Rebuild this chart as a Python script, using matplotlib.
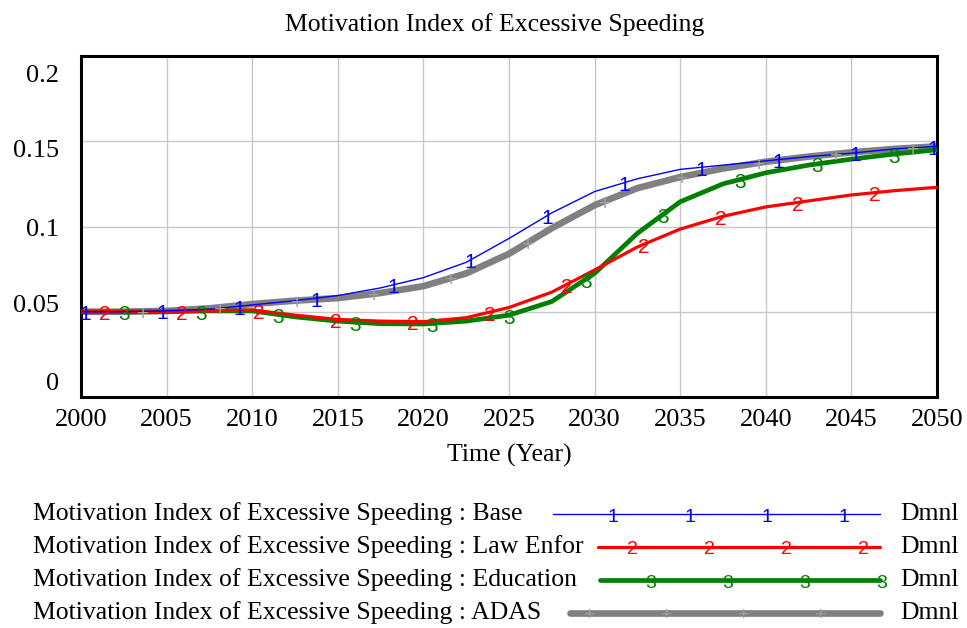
import numpy as np
import matplotlib
matplotlib.use("Agg")
import matplotlib.pyplot as plt
from matplotlib.transforms import ScaledTranslation

# ---------------- data ----------------
years = [2000, 2002.5, 2005, 2007.5, 2010, 2012.5, 2015, 2017.5, 2020, 2022.5, 2025,
         2027.5, 2030, 2032.5, 2035, 2037.5, 2040, 2042.5, 2045, 2047.5, 2050]
base = [0.050, 0.050, 0.0505, 0.0515, 0.054, 0.0565, 0.0595, 0.064, 0.070, 0.079, 0.093,
        0.108, 0.1205, 0.128, 0.1335, 0.136, 0.1385, 0.141, 0.143, 0.1455, 0.147]
law_enfor = [0.050, 0.050, 0.050, 0.0505, 0.051, 0.048, 0.0455, 0.0445, 0.0442, 0.0465, 0.0525,
             0.0615, 0.0745, 0.088, 0.0985, 0.106, 0.1115, 0.115, 0.1185, 0.121, 0.123]
education = [0.050, 0.050, 0.050, 0.0505, 0.0505, 0.047, 0.0445, 0.043, 0.0428, 0.0445, 0.048,
             0.056, 0.0725, 0.096, 0.1145, 0.125, 0.1315, 0.136, 0.1395, 0.1425, 0.145]
adas = [0.050, 0.050, 0.0505, 0.052, 0.0545, 0.0565, 0.058, 0.061, 0.065, 0.0725, 0.084,
        0.099, 0.1125, 0.1225, 0.129, 0.134, 0.138, 0.141, 0.1435, 0.1455, 0.147]

series_names = ["Base", "Law Enfor", "Education", "ADAS"]
marker_texts = ["1", "2", "3", "+"]
x_ticks = [2000, 2005, 2010, 2015, 2020, 2025, 2030, 2035, 2040, 2045, 2050]
y_ticks = [0, 0.05, 0.1, 0.15, 0.2]
y_tick_labels = ["0", "0.05", "0.1", "0.15", "0.2"]

# ---------------- style ----------------
colors = ["#0000ff", "#ff0000", "#008000", "#808080"]
marker_colors = ["#0000ff", "#ff0000", "#008000", "#a0a0a0"]
widths = [1.0, 2.3, 3.4, 4.8]
serif = ["Liberation Serif", "DejaVu Serif"]
sans = ["Liberation Sans", "DejaVu Sans"]

W, H = 967, 628
fig = plt.figure(figsize=(W / 100, H / 100), dpi=100)
ax = fig.add_axes([81 / W, 1 - 397 / H, (937 - 81) / W, (397 - 56) / H])

data = [base, law_enfor, education, adas]
order = [3, 2, 1, 0]
z = {3: 2, 2: 3, 1: 4, 0: 5}
for i in order:
    ax.plot(years, data[i], color=colors[i], lw=widths[i], zorder=z[i],
            solid_capstyle="butt")

# numbered markers
mk_offset = ScaledTranslation(0, -3 / 100, fig.dpi_scale_trans)
for i in range(4):
    start = 2000.25 + i * 1.12
    mx = np.arange(start, 2050.01, 4.5)
    my = np.interp(mx, years, data[i])
    for xx, yy in zip(mx, my):
        ax.text(xx, yy, marker_texts[i], color=marker_colors[i], fontsize=15,
                family=sans, ha="center", va="center", zorder=10,
                transform=ax.transData + mk_offset)

ax.set_xlim(2000, 2050)
ax.set_ylim(0, 0.2)
ax.set_xticks(x_ticks)
ax.set_xticklabels([str(t) for t in x_ticks], family=serif, fontsize=19)
ax.set_yticks(y_ticks)
ax.set_yticklabels(y_tick_labels, family=serif, fontsize=19)
ax.tick_params(length=0)
ax.tick_params(axis="x", pad=9)
ax.tick_params(axis="y", pad=16)
# Vensim squeezes the value labels slightly toward the middle
y_shift_px = [16, 8, -1, -7, -17]
for lab, dy in zip(ax.get_yticklabels(), y_shift_px):
    lab.set_transform(lab.get_transform() + ScaledTranslation(0, dy / 100, fig.dpi_scale_trans))
ax.grid(True, color="#c8c8c8", lw=1.0, zorder=0)
for s in ax.spines.values():
    s.set_linewidth(2.2)
    s.set_color("black")
ax.set_xlabel("Time (Year)", family=serif, fontsize=18.5, labelpad=9)
fig.text(495 / W, 1 - 25 / H, "Motivation Index of Excessive Speeding",
         family=serif, fontsize=18.5, ha="center", va="center")

# ---------------- legend ----------------
lax = fig.add_axes([0, 0, 1, 1 - 490 / H])
lax.set_xlim(0, W)
lax.set_ylim(628, 490)
lax.axis("off")
rows_y = [514, 547, 580, 613]
line_start = [553, 598, 600, 570]
line_end = 880
marker_start = [613, 632, 651, 590]
for i in range(4):
    yy = rows_y[i]
    lax.text(33, yy, "Motivation Index of Excessive Speeding : " + series_names[i],
             family=serif, fontsize=18.5, ha="left", va="center")
    lax.plot([line_start[i], line_end], [yy, yy], color=colors[i], lw=widths[i],
             solid_capstyle="round")
    for k in range(4):
        mxp = marker_start[i] + k * 77
        lax.text(mxp, yy + 3, marker_texts[i], color=marker_colors[i], fontsize=14,
                 family=sans, ha="center", va="center")
    lax.text(900, yy, "Dmnl", family=serif, fontsize=18.5, ha="left", va="center")

fig.savefig("out.png", dpi=100)
